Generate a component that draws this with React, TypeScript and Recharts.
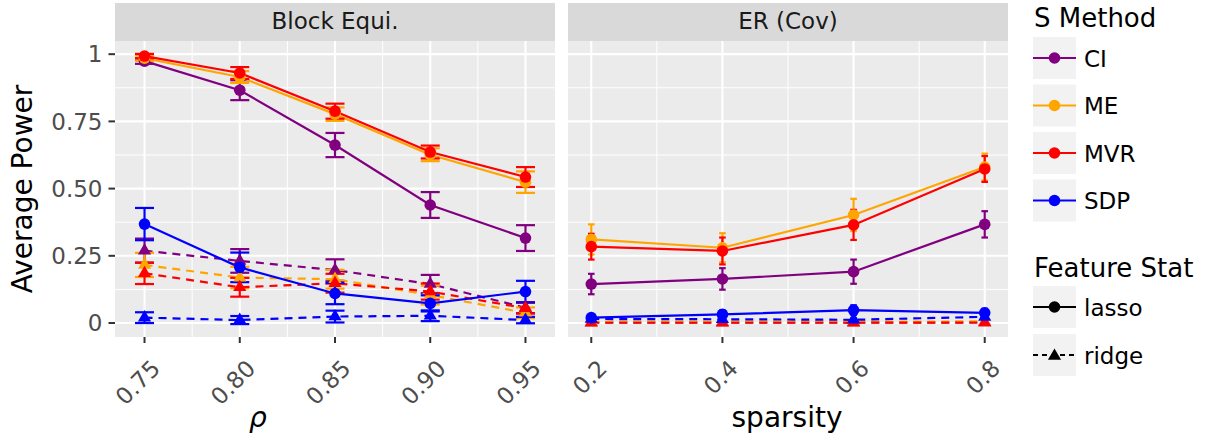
import React from 'react';
import { LineChart, Line, XAxis, YAxis, CartesianGrid, ErrorBar } from 'recharts';

// ---------- categories / ticks ----------
const rhoValues = [0.75, 0.8, 0.85, 0.9, 0.95];
const rhoMinor = [0.775, 0.825, 0.875, 0.925];
const sparsityValues = [0.2, 0.4, 0.6, 0.8];
const sparsityMinor = [0.3, 0.5, 0.7];
const powerTicks = [0, 0.25, 0.5, 0.75, 1];
const powerTickLabels = ['0', '0.25', '0.50', '0.75', '1'];
const powerMinor = [0.125, 0.375, 0.625, 0.875];
const methods = ['CI', 'ME', 'MVR', 'SDP'];
const methodColors = ['#800080', '#FFA500', '#FF0000', '#0000FF'];
const stats = ['lasso', 'ridge'];
const panelTitles = ['Block Equi.', 'ER (Cov)'];

// ---------- Block Equi. (x = rho) ----------
const blockCILasso = [0.974, 0.866, 0.662, 0.439, 0.316];
const blockCILassoErr = [0.01, 0.037, 0.045, 0.048, 0.048];
const blockMELasso = [0.985, 0.915, 0.777, 0.626, 0.524];
const blockMELassoErr = [0.01, 0.022, 0.025, 0.024, 0.04];
const blockMVRLasso = [0.993, 0.93, 0.788, 0.636, 0.543];
const blockMVRLassoErr = [0.008, 0.022, 0.028, 0.024, 0.037];
const blockSDPLasso = [0.368, 0.207, 0.11, 0.073, 0.117];
const blockSDPLassoErr = [0.06, 0.055, 0.04, 0.03, 0.04];
const blockCIRidge = [0.269, 0.231, 0.197, 0.145, 0.057];
const blockCIRidgeErr = [0.045, 0.044, 0.04, 0.034, 0.02];
const blockMERidge = [0.216, 0.169, 0.163, 0.104, 0.038];
const blockMERidgeErr = [0.045, 0.04, 0.035, 0.035, 0.02];
const blockMVRRidge = [0.185, 0.133, 0.148, 0.117, 0.055];
const blockMVRRidgeErr = [0.04, 0.035, 0.035, 0.03, 0.02];
const blockSDPRidge = [0.02, 0.011, 0.024, 0.027, 0.011];
const blockSDPRidgeErr = [0.02, 0.015, 0.022, 0.02, 0.012];

// ---------- ER (Cov) (x = sparsity) ----------
const erCILasso = [0.145, 0.164, 0.191, 0.367];
const erCILassoErr = [0.038, 0.04, 0.045, 0.049];
const erMELasso = [0.311, 0.28, 0.402, 0.58];
const erMELassoErr = [0.056, 0.054, 0.06, 0.05];
const erMVRLasso = [0.284, 0.268, 0.365, 0.573];
const erMVRLassoErr = [0.048, 0.05, 0.056, 0.048];
const erSDPLasso = [0.02, 0.032, 0.048, 0.038];
const erSDPLassoErr = [0.01, 0.015, 0.018, 0.015];
const erCIRidge = [0.002, 0.002, 0.002, 0.002];
const erCIRidgeErr = [0.003, 0.003, 0.003, 0.003];
const erMERidge = [0.005, 0.005, 0.005, 0.006];
const erMERidgeErr = [0.004, 0.004, 0.004, 0.004];
const erMVRRidge = [0.001, 0.001, 0.001, 0.002];
const erMVRRidgeErr = [0.003, 0.003, 0.003, 0.003];
const erSDPRidge = [0.015, 0.014, 0.012, 0.023];
const erSDPRidgeErr = [0.006, 0.006, 0.006, 0.008];

type Series = { key: string; color: string; stat: string; values: number[]; err: number[] };

const mk = (m: number, s: number, values: number[], err: number[]): Series => ({
  key: `${methods[m]}_${stats[s]}`,
  color: methodColors[m],
  stat: stats[s],
  values,
  err,
});

const blockSeries: Series[] = [
  mk(0, 0, blockCILasso, blockCILassoErr),
  mk(0, 1, blockCIRidge, blockCIRidgeErr),
  mk(1, 0, blockMELasso, blockMELassoErr),
  mk(1, 1, blockMERidge, blockMERidgeErr),
  mk(2, 0, blockMVRLasso, blockMVRLassoErr),
  mk(2, 1, blockMVRRidge, blockMVRRidgeErr),
  mk(3, 0, blockSDPLasso, blockSDPLassoErr),
  mk(3, 1, blockSDPRidge, blockSDPRidgeErr),
];
const erSeries: Series[] = [
  mk(0, 0, erCILasso, erCILassoErr),
  mk(0, 1, erCIRidge, erCIRidgeErr),
  mk(1, 0, erMELasso, erMELassoErr),
  mk(1, 1, erMERidge, erMERidgeErr),
  mk(2, 0, erMVRLasso, erMVRLassoErr),
  mk(2, 1, erMVRRidge, erMVRRidgeErr),
  mk(3, 0, erSDPLasso, erSDPLassoErr),
  mk(3, 1, erSDPRidge, erSDPRidgeErr),
];

const buildRows = (xs: number[], series: Series[]) =>
  xs.map((x, i) => {
    const row: any = { x };
    series.forEach((s) => {
      row[s.key] = s.values[i];
      row[s.key + '_err'] = s.err[i];
    });
    return row;
  });

const blockRows = buildRows(rhoValues, blockSeries);
const erRows = buildRows(sparsityValues, erSeries);

const FONT = 'DejaVu Sans, Verdana, sans-serif';
const Y_DOMAIN: [number, number] = [-0.052, 1.049];
const DOT_R = 5.8;

const triPath = (cx: number, cy: number, s = 7.6) =>
  `M${cx},${cy - s} L${cx + s * 0.866},${cy + s * 0.5} L${cx - s * 0.866},${cy + s * 0.5} Z`;

const RotTick = (props: any) => {
  const { x, y, payload, fmt } = props;
  const ax = x + 17;
  const ay = y + 27;
  return (
    <text
      x={ax}
      y={ay}
      transform={`rotate(-45, ${ax}, ${ay})`}
      textAnchor="end"
      fontSize={23}
      fill="#4d4d4d"
      fontFamily={FONT}
    >
      {fmt(payload.value)}
    </text>
  );
};

// grid positions derived from the same domains the axes use
const yGen = (vals: number[]) => (p: any) =>
  vals.map((v) => p.offset.top + ((Y_DOMAIN[1] - v) / (Y_DOMAIN[1] - Y_DOMAIN[0])) * p.offset.height);
const xGen = (vals: number[], dom: [number, number]) => (p: any) =>
  vals.map((v) => p.offset.left + ((v - dom[0]) / (dom[1] - dom[0])) * p.offset.width);

type PanelProps = {
  rows: any[];
  series: Series[];
  xTicks: number[];
  xMinor: number[];
  xDomain: [number, number];
  fmt: (v: number) => string;
  showY: boolean;
  errHalf: number;
  width: number;
  margin: any;
};

const Panel = ({ rows, series, xTicks, xMinor, xDomain, fmt, showY, errHalf, width, margin }: PanelProps) => (
  <LineChart width={width} height={435} data={rows} margin={margin} style={{ overflow: 'visible' }}>
    <CartesianGrid
      fill="#ebebeb"
      stroke="#ffffff"
      strokeWidth={1}
      horizontalCoordinatesGenerator={yGen(powerMinor)}
      verticalCoordinatesGenerator={xGen(xMinor, xDomain)}
    />
    <CartesianGrid
      stroke="#ffffff"
      strokeWidth={2.1}
      horizontalCoordinatesGenerator={yGen(powerTicks)}
      verticalCoordinatesGenerator={xGen(xTicks, xDomain)}
    />
    <XAxis
      dataKey="x"
      type="number"
      domain={xDomain}
      ticks={xTicks}
      interval={0}
      allowDataOverflow
      axisLine={false}
      tickSize={6}
      tickMargin={0}
      tickLine={{ stroke: '#333333', strokeWidth: 2 }}
      tick={<RotTick fmt={fmt} />}
      height={60}
    />
    <YAxis
      type="number"
      domain={Y_DOMAIN}
      ticks={powerTicks}
      interval={0}
      allowDataOverflow
      hide={!showY}
      axisLine={false}
      tickSize={6.5}
      tickMargin={6}
      tickLine={{ stroke: '#333333', strokeWidth: 2 }}
      tick={{ fill: '#4d4d4d', fontSize: 23, fontFamily: FONT }}
      tickFormatter={(v: number) => powerTickLabels[powerTicks.indexOf(v)] ?? String(v)}
      width={70}
    />
    {series.map((s) => (
      <Line
        key={s.key + '-line'}
        dataKey={s.key}
        stroke={s.color}
        strokeWidth={2.2}
        strokeDasharray={s.stat === 'ridge' ? '8 6' : undefined}
        dot={false}
        activeDot={false}
        isAnimationActive={false}
        type="linear"
      >
        <ErrorBar
          dataKey={s.key + '_err'}
          width={errHalf}
          stroke={s.color}
          strokeWidth={2.2}
          direction="y"
          isAnimationActive={false}
        />
      </Line>
    ))}
    {series.map((s) => (
      <Line
        key={s.key + '-pts'}
        dataKey={s.key}
        stroke="none"
        strokeWidth={0}
        activeDot={false}
        isAnimationActive={false}
        type="linear"
        dot={
          s.stat === 'lasso'
            ? { r: DOT_R, fill: s.color, stroke: 'none', strokeWidth: 0 }
            : (p: any) => (
                <path key={`${s.key}-tri-${p.index}`} d={triPath(p.cx, p.cy)} fill={s.color} stroke="none" />
              )
        }
      />
    ))}
  </LineChart>
);

const legendKeyY = [37, 84.5, 132, 179.5];
const statKeyY = [286, 334];

const Overlay = () => (
  <svg width={1205} height={435} style={{ position: 'absolute', left: 0, top: 0, pointerEvents: 'none' }} fontFamily={FONT}>
    {/* strips */}
    <rect x={115} y={3} width={440} height={38} fill="#d9d9d9" />
    <text x={335} y={29} textAnchor="middle" fontSize={23} fill="#1a1a1a">{panelTitles[0]}</text>
    <rect x={568} y={3} width={440} height={38} fill="#d9d9d9" />
    <text x={788} y={29} textAnchor="middle" fontSize={23} fill="#1a1a1a">{panelTitles[1]}</text>
    {/* axis titles */}
    <text x={31.5} y={189} transform="rotate(-90, 31.5, 189)" textAnchor="middle" fontSize={28} fill="#000">Average Power</text>
    <text x={258} y={427} textAnchor="middle" fontSize={28} fontStyle="italic" fill="#000">ρ</text>
    <text x={787} y={427} textAnchor="middle" fontSize={28} fill="#000">sparsity</text>
    {/* legend: S Method */}
    <text x={1034} y={27} fontSize={26} fill="#000">S Method</text>
    {methods.map((m, i) => (
      <g key={m}>
        <rect x={1033} y={legendKeyY[i]} width={43} height={42} fill="#f2f2f2" />
        <line x1={1033} x2={1076} y1={legendKeyY[i] + 21} y2={legendKeyY[i] + 21} stroke={methodColors[i]} strokeWidth={2.2} />
        <circle cx={1054.5} cy={legendKeyY[i] + 21} r={DOT_R} fill={methodColors[i]} />
        <text x={1084} y={legendKeyY[i] + 29.5} fontSize={23} fill="#000">{m}</text>
      </g>
    ))}
    {/* legend: Feature Stat */}
    <text x={1034} y={277} fontSize={26} fill="#000">Feature Stat</text>
    {stats.map((s, i) => (
      <g key={s}>
        <rect x={1033} y={statKeyY[i]} width={43} height={42} fill="#f2f2f2" />
        <line
          x1={1033}
          x2={1076}
          y1={statKeyY[i] + 21}
          y2={statKeyY[i] + 21}
          stroke="#000"
          strokeWidth={2.2}
          strokeDasharray={s === 'ridge' ? '5 4' : undefined}
        />
        {s === 'lasso' ? (
          <circle cx={1054.5} cy={statKeyY[i] + 21} r={DOT_R} fill="#000" />
        ) : (
          <path d={triPath(1054.5, statKeyY[i] + 22)} fill="#000" />
        )}
        <text x={1084} y={statKeyY[i] + 29.5} fontSize={23} fill="#000">{s}</text>
      </g>
    ))}
  </svg>
);

export default function App() {
  return (
    <div style={{ position: 'absolute', left: 0, top: 0, width: 1205, height: 435, background: '#ffffff', fontFamily: FONT }}>
      <div style={{ position: 'absolute', left: 0, top: 0 }}>
        <Panel
          rows={blockRows}
          series={blockSeries}
          xTicks={rhoValues}
          xMinor={rhoMinor}
          xDomain={[0.7345, 0.9655]}
          fmt={(v) => v.toFixed(2)}
          showY
          errHalf={9.5}
          width={560}
          margin={{ top: 41, left: 45, right: 5, bottom: 38 }}
        />
      </div>
      <div style={{ position: 'absolute', left: 560, top: 0 }}>
        <Panel
          rows={erRows}
          series={erSeries}
          xTicks={sparsityValues}
          xMinor={sparsityMinor}
          xDomain={[0.1645, 0.8355]}
          fmt={(v) => v.toFixed(1)}
          showY={false}
          errHalf={3.3}
          width={460}
          margin={{ top: 41, left: 8, right: 12, bottom: 38 }}
        />
      </div>
      <Overlay />
    </div>
  );
}
